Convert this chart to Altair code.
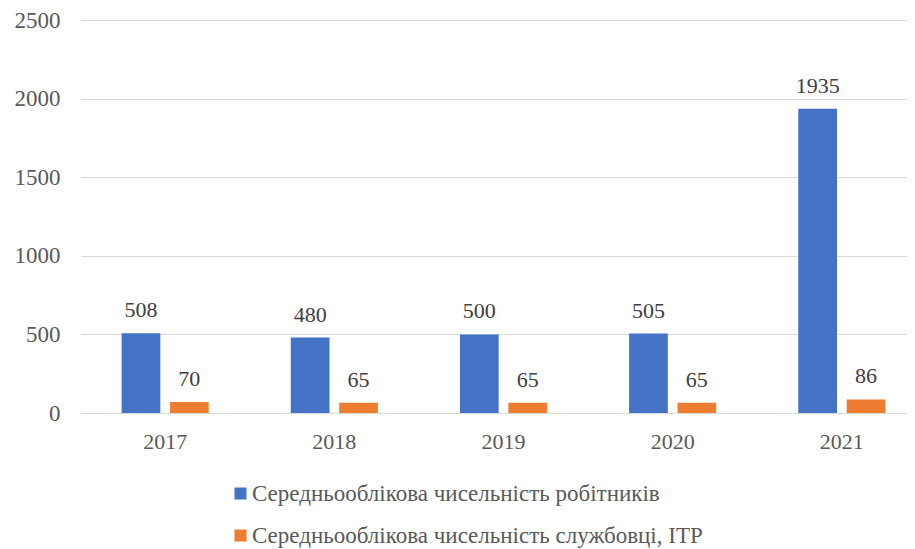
import altair as alt
import pandas as pd

years = ["2017", "2018", "2019", "2020", "2021"]
workers = [508, 480, 500, 505, 1935]
staff = [70, 65, 65, 65, 86]
series = ["Середньооблікова чисельність робітників",
          "Середньооблікова чисельність службовці, ІТР"]
colors = ["#4472C4", "#ED7D31"]

rows = []
for i, yr in enumerate(years):
    rows.append({"year": yr, "series": series[0], "value": workers[i]})
    rows.append({"year": yr, "series": series[1], "value": staff[i]})
df = pd.DataFrame(rows)

FONT = "Times New Roman, Liberation Serif, serif"

base = alt.Chart(df).encode(
    x=alt.X("year:N", sort=years,
            scale=alt.Scale(range=[0, 845], paddingInner=0.485, paddingOuter=0.24),
            axis=alt.Axis(title=None, labelAngle=0, labelFont=FONT, labelFontSize=22,
                          labelColor="#595959", labelPadding=18, ticks=False,
                          domain=False, grid=False)),
    xOffset=alt.XOffset("series:N", sort=series,
                        scale=alt.Scale(paddingInner=0.2, paddingOuter=0)),
)

bars = base.mark_bar().encode(
    y=alt.Y("value:Q", scale=alt.Scale(domain=[0, 2500], nice=False),
            axis=alt.Axis(values=[0, 500, 1000, 1500, 2000, 2500], title=None,
                          format="d",
                          labelFont=FONT, labelFontSize=23, labelColor="#595959",
                          labelPadding=21, ticks=False, domain=False,
                          gridColor="#D9D9D9", gridWidth=1.2)),
    color=alt.Color("series:N", sort=series,
                    scale=alt.Scale(domain=series, range=colors),
                    legend=alt.Legend(title=None, orient="none", legendX=148, legendY=462,
                                      direction="vertical", symbolType="square",
                                      symbolSize=144, symbolStrokeWidth=0,
                                      labelFont=FONT, labelFontSize=23,
                                      labelColor="#595959", labelLimit=0,
                                      rowPadding=18, labelOffset=0)),
)

labels = base.mark_text(dy=-16, baseline="alphabetic", font=FONT, fontSize=22,
                        color="#404040").encode(
    y=alt.Y("value:Q", scale=alt.Scale(domain=[0, 2500], nice=False)),
    text=alt.Text("value:Q"),
)

chart = (bars + labels).properties(
    width=826, height=393,
    autosize=alt.AutoSizeParams(type="none"),
    padding={"left": 73, "top": 12, "right": 0, "bottom": 140},
).configure(font=FONT).configure_view(stroke=None)

chart.save("out.html", embed_options={"renderer": "svg", "actions": False})
